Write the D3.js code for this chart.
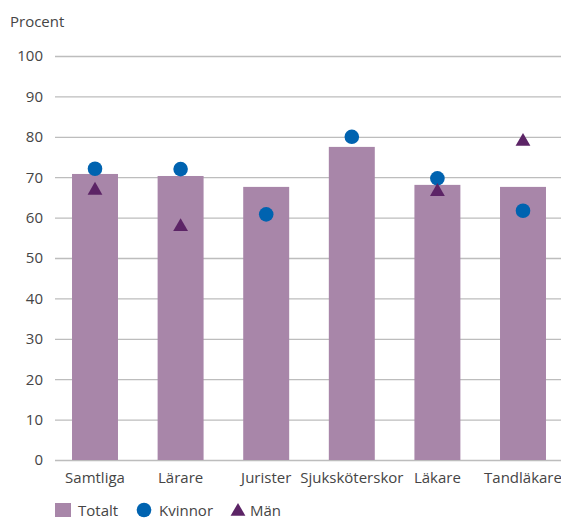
<!DOCTYPE html>
<html><head><meta charset="utf-8">
<script src="https://cdn.jsdelivr.net/npm/d3@7"></script>
<style>body{margin:0;background:#fff;} text{font-family:"Open Sans",sans-serif;}</style>
</head><body>
<svg id="c" width="561" height="519"></svg>
<script>
const categories = ["Samtliga","Lärare","Jurister","Sjuksköterskor","Läkare","Tandläkare"];
const totalt  = [70.8, 70.3, 67.6, 77.5, 68.1, 67.6];
const kvinnor = [72.1, 72.0, 60.8, 80.0, 69.7, 61.7];
const man     = [67.1, 58.1, null, null, 66.8, 79.2];
const yTicks  = [0,10,20,30,40,50,60,70,80,90,100];

const svg = d3.select("#c");
const FONT = "'Open Sans',sans-serif", FS = 15;
const textColor = "#454545", gridColor = "#bdbdbd";
const barColor = "#a886a9", circColor = "#0063b0", triColor = "#5c2466";

const y = d3.scaleLinear().domain([0,100]).range([460,56]);
const x = d3.scaleBand().domain(categories).range([52.2,565.8]).paddingInner(0.463).paddingOuter(0.2315);

svg.append("text").attr("x",10).attr("y",27).attr("fill",textColor).attr("font-size",FS).text("Procent");

const yAxis = svg.append("g").attr("transform","translate(55,0)")
  .call(d3.axisLeft(y).tickValues(yTicks).tickSize(-506).tickPadding(12));
yAxis.select(".domain").remove();
yAxis.selectAll("line").attr("stroke",gridColor).attr("stroke-width",1.3);
yAxis.selectAll("text").attr("fill",textColor).attr("font-size",FS).attr("font-family",FONT);

svg.append("g").selectAll("rect").data(categories).join("rect")
  .attr("x",d=>x(d)).attr("width",x.bandwidth())
  .attr("y",(d,i)=>y(totalt[i])).attr("height",(d,i)=>y(0)-y(totalt[i]))
  .attr("fill",barColor);

svg.append("g").selectAll("circle").data(categories).join("circle")
  .attr("cx",d=>x(d)+x.bandwidth()/2).attr("cy",(d,i)=>y(kvinnor[i])).attr("r",7.3)
  .attr("fill",circColor);

const tri = d3.symbol().type(d3.symbolTriangle).size(95);
svg.append("g").selectAll("path").data(categories.map((c,i)=>({c,v:man[i]})).filter(d=>d.v!=null)).join("path")
  .attr("d",tri).attr("transform",d=>`translate(${x(d.c)+x.bandwidth()/2},${y(d.v)+1.5})`)
  .attr("fill",triColor);

const xAxis = svg.append("g").attr("transform","translate(0,460)")
  .call(d3.axisBottom(x).tickSize(0).tickPadding(12));
xAxis.select(".domain").remove();
xAxis.selectAll("text").attr("fill",textColor).attr("font-size",FS).attr("font-family",FONT);

// legend
const lg = svg.append("g");
lg.append("rect").attr("x",55).attr("y",503).attr("width",16).attr("height",14).attr("fill",barColor);
lg.append("text").attr("x",78).attr("y",515.5).attr("fill",textColor).attr("font-size",FS).text("Totalt");
lg.append("circle").attr("cx",144).attr("cy",510).attr("r",7.3).attr("fill",circColor);
lg.append("text").attr("x",159).attr("y",515.5).attr("fill",textColor).attr("font-size",FS).text("Kvinnor");
lg.append("path").attr("d",tri).attr("transform","translate(238,511.5)").attr("fill",triColor);
lg.append("text").attr("x",250).attr("y",515.5).attr("fill",textColor).attr("font-size",FS).text("Män");
</script>
</body></html>
